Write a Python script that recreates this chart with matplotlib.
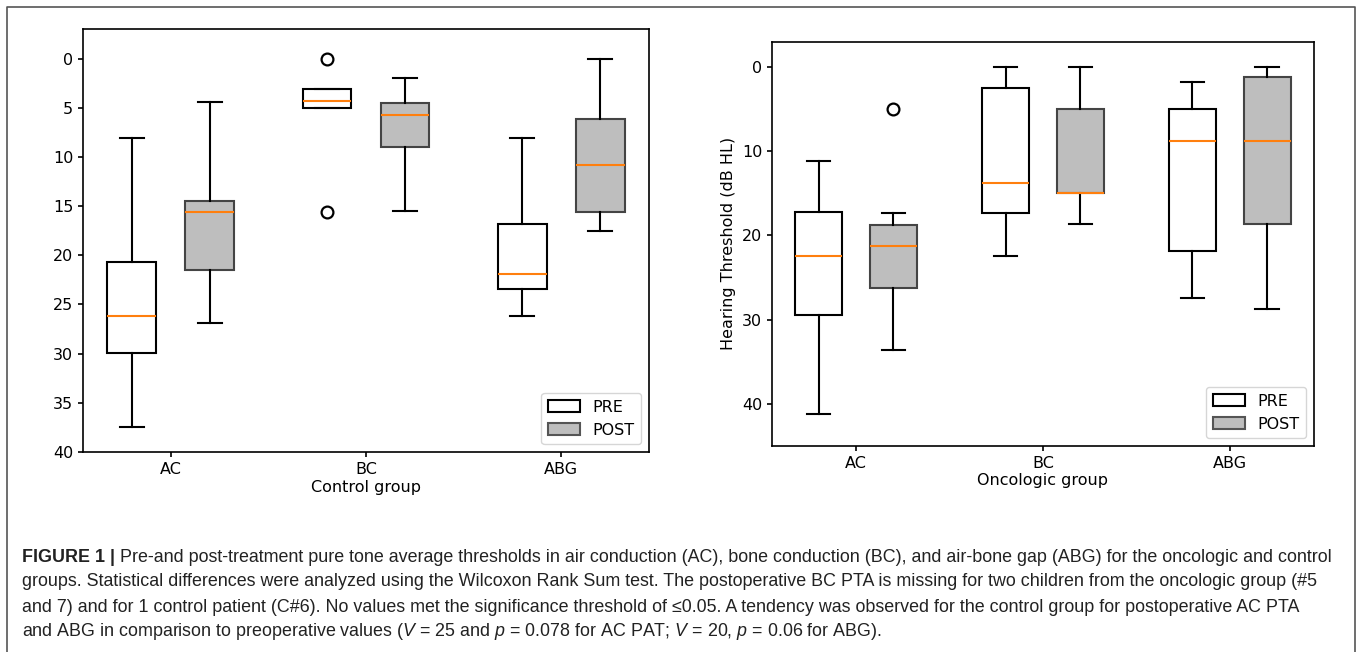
import matplotlib
matplotlib.use("Agg")
import matplotlib.pyplot as plt
from matplotlib.patches import Patch
from matplotlib.lines import Line2D

# categories and legend
categories = ["AC", "BC", "ABG"]
groups = ["PRE", "POST"]

# control group summary: whislo, q1, median, q3, whishi
control_pre = [[8.1, 20.7, 26.2, 29.9, 37.5],
               [3.1, 3.1, 4.3, 5.0, 5.0],
               [8.1, 16.8, 21.9, 23.4, 26.2]]
control_pre_fliers = [[], [0.0, 15.6], []]
control_post = [[4.4, 14.5, 15.6, 21.5, 26.9],
                [2.0, 4.5, 5.7, 9.0, 15.5],
                [0.0, 6.1, 10.8, 15.6, 17.5]]
control_post_fliers = [[], [], []]

# oncologic group summary
onco_pre = [[11.2, 17.2, 22.5, 29.4, 41.2],
            [0.0, 2.5, 13.75, 17.4, 22.5],
            [1.8, 5.0, 8.75, 21.8, 27.4]]
onco_pre_fliers = [[], [], []]
onco_post = [[17.4, 18.8, 21.2, 26.3, 33.6],
             [0.0, 5.0, 15.0, 15.0, 18.7],
             [0.0, 1.2, 8.8, 18.7, 28.7]]
onco_post_fliers = [[5.0], [], []]

caption_head = "FIGURE 1 |"
caption_lines = [
    " Pre-and post-treatment pure tone average thresholds in air conduction (AC), bone conduction (BC), and air-bone gap (ABG) for the oncologic and control",
    "groups. Statistical differences were analyzed using the Wilcoxon Rank Sum test. The postoperative BC PTA is missing for two children from the oncologic group (#5",
    "and 7) and for 1 control patient (C#6). No values met the significance threshold of \u22640.05. A tendency was observed for the control group for postoperative AC PTA",
    "and ABG in comparison to preoperative values ($V$ = 25 and $p$ = 0.078 for AC PAT; $V$ = 20, $p$ = 0.06 for ABG).",
]

plt.rcParams["mathtext.fontset"] = "custom"
plt.rcParams["mathtext.it"] = "Liberation Sans:italic"
plt.rcParams["mathtext.rm"] = "Liberation Sans"

POST_COLOR = "#bebebe"
LW = 1.5
FS = 11.5


def make_stats(rows, fliers):
    out = []
    for r, f in zip(rows, fliers):
        out.append(dict(whislo=r[0], q1=r[1], med=r[2], q3=r[3], whishi=r[4], fliers=f))
    return out


def draw_panel(ax, pre, pre_f, post, post_f, xlabel, ylim):
    pos = range(1, len(categories) + 1)
    common = dict(widths=0.25, patch_artist=True,
                  whiskerprops=dict(color="black", lw=LW),
                  capprops=dict(color="black", lw=LW),
                  medianprops=dict(color="#ff7f0e", lw=LW),
                  flierprops=dict(marker="o", markerfacecolor="white",
                                  markeredgecolor="black", markersize=8.5, mew=1.6))
    ax.bxp(make_stats(pre, pre_f), positions=[p - 0.2 for p in pos],
           boxprops=dict(facecolor="white", edgecolor="black", lw=LW), **common)
    ax.bxp(make_stats(post, post_f), positions=[p + 0.2 for p in pos],
           boxprops=dict(facecolor=POST_COLOR, edgecolor="#444444", lw=LW), **common)
    ax.set_xticks(list(pos))
    ax.set_xticklabels(categories)
    ax.set_xlim(0.55, 3.45)
    ax.set_ylim(*ylim)
    ax.tick_params(labelsize=FS, width=1.2)
    for s in ax.spines.values():
        s.set_linewidth(1.2)
    ax.set_xlabel(xlabel, fontsize=FS, labelpad=2)
    handles = [Patch(facecolor="white", edgecolor="black", lw=LW),
               Patch(facecolor=POST_COLOR, edgecolor="#555555", lw=LW)]
    ax.legend(handles, groups, loc="lower right", fontsize=FS)


fig = plt.figure(figsize=(13.6, 6.52), dpi=100)
ax1 = fig.add_axes([0.0610, 0.3067, 0.4162, 0.6488])
ax2 = fig.add_axes([0.5676, 0.3160, 0.3985, 0.6201])

draw_panel(ax1, control_pre, control_pre_fliers, control_post, control_post_fliers,
           "Control group", (40, -3))
draw_panel(ax2, onco_pre, onco_pre_fliers, onco_post, onco_post_fliers,
           "Oncologic group", (45, -3))
ax1.set_yticks([0, 5, 10, 15, 20, 25, 30, 35, 40])
ax2.set_yticks([0, 10, 20, 30, 40])
ax2.set_ylabel("Hearing Threshold (dB HL)", fontsize=FS)

# outer frame (left, top, right)
W, H = 1360, 652
fx0, fx1, fy1 = 7 / W, 1355 / W, 1 - 7 / H
fig.add_artist(Line2D([fx0, fx0, fx1, fx1], [0, fy1, fy1, 0],
                      transform=fig.transFigure, color="#555555", lw=1.2))

# caption
cap_font = dict(family="Liberation Sans", fontsize=12.9, color="#222222")
ys = [557, 582, 607, 631]
x0 = 22 / W
renderer = fig.canvas.get_renderer()
head = fig.text(x0, 1 - ys[0] / H, caption_head, fontweight="bold", va="center", **cap_font)
bb = head.get_window_extent(renderer)
fig.text(bb.x1 / W, 1 - ys[0] / H, caption_lines[0], va="center", **cap_font)
for y, line in zip(ys[1:], caption_lines[1:]):
    fig.text(x0, 1 - y / H, line, va="center", **cap_font)

fig.savefig("out.png", dpi=100)
